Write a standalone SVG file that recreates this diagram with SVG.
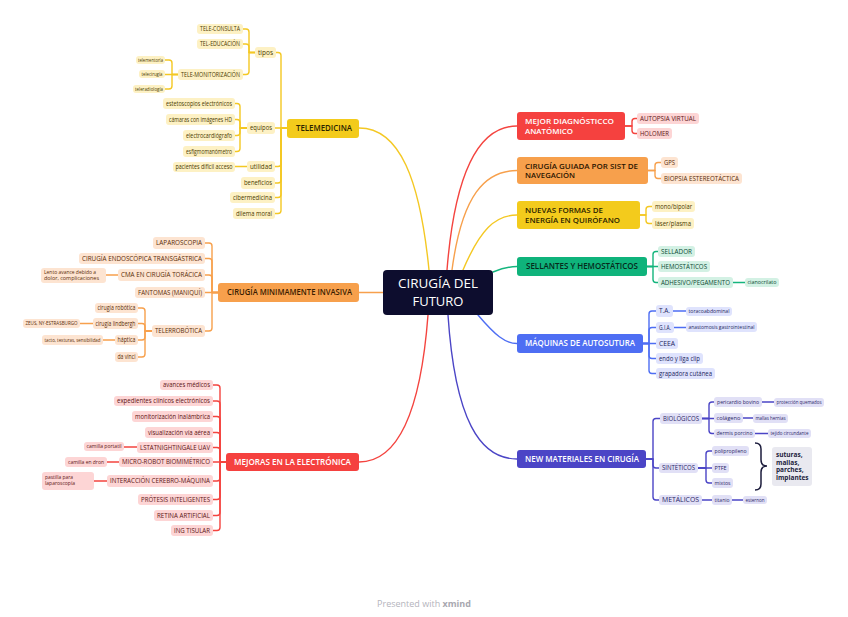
<svg xmlns="http://www.w3.org/2000/svg" width="848" height="617" viewBox="0 0 848 617">
<style>
.c{fill:none;stroke-width:1.4;stroke-linecap:round;stroke-linejoin:round}
.ly{stroke:#f4c823}.lo{stroke:#f7a04c}.lr{stroke:#f4443f}.lg{stroke:#14b57d}.lb{stroke:#4e6ef3}.li{stroke:#4b45c6}
.m{font-family:"Open Sans","Liberation Sans",sans-serif;font-weight:600;font-size:8px}
.m2{font-family:"Open Sans","Liberation Sans",sans-serif;font-weight:600;font-size:7.2px}
.s{font-family:"Open Sans","Liberation Sans",sans-serif;font-size:6.3px;text-anchor:middle}
.x{font-family:"Open Sans","Liberation Sans",sans-serif;font-size:4.4px;text-anchor:middle}
.xl{font-family:"Open Sans","Liberation Sans",sans-serif;font-size:4.4px}
.fy{fill:#fdf1c4}.fo{fill:#fde4d1}.fr{fill:#fdd5d5}.fg{fill:#d3f1e4}.fb{fill:#dfe3fd}.fi{fill:#e1e0f6}
.ty{fill:#4a3b00}.to{fill:#5a2c08}.tr{fill:#5c1414}.tg{fill:#0b4a33}.tb{fill:#1c2660}.ti{fill:#2a2666}
</style>
<rect width="848" height="617" fill="#ffffff"/>
<g id="connectors">
<path class="c ly" d="M429 270 C420 180 400 128 359 128"/>
<path class="c lr" d="M447 270 C455 170 480 126 517 126"/>
<path class="c lo" d="M452 270 C462 195 485 170.5 517 170.5"/>
<path class="c ly" d="M463 270 C480 230 495 215 517 215"/>
<path class="c lg" d="M493 272 C503 268 508 266.5 517 266.5"/>
<path class="c lb" d="M478 315 C495 335 505 343.5 517 343.5"/>
<path class="c li" d="M448 315 C455 420 480 459 517 459"/>
<path class="c lo" d="M383 292.5 H359"/>
<path class="c lr" d="M428 315 C420 420 395 462 359 462"/>
<path class="c ly" d="M287 128 H281 V55.5 Q281 52.5 278 52.5 H276"/>
<path class="c ly" d="M287 128 H275"/>
<path class="c ly" d="M287 128 H281 V163.5 Q281 166.5 278 166.5 H275"/>
<path class="c ly" d="M287 128 H281 V180 Q281 183 278 183 H275"/>
<path class="c ly" d="M287 128 H281 V194.5 Q281 197.5 278 197.5 H275"/>
<path class="c ly" d="M287 128 H281 V210.5 Q281 213.5 278 213.5 H275"/>
<path class="c ly" d="M255 52.5 H249 V32 Q249 29 246 29 H243"/>
<path class="c ly" d="M255 52.5 H249 V47 Q249 44 246 44 H243"/>
<path class="c ly" d="M255 52.5 H249 V71.5 Q249 74.5 246 74.5 H243"/>
<path class="c ly" d="M178 74.5 H172 V63 Q172 60 169 60 H165"/>
<path class="c ly" d="M178 74.5 H165"/>
<path class="c ly" d="M178 74.5 H172 V86 Q172 89 169 89 H165"/>
<path class="c ly" d="M247 128 H240 V106.5 Q240 103.5 237 103.5 H235"/>
<path class="c ly" d="M247 128 H240 V122.5 Q240 119.5 237 119.5 H235"/>
<path class="c ly" d="M247 128 H240 V132.5 Q240 135.5 237 135.5 H235"/>
<path class="c ly" d="M247 128 H240 V148.5 Q240 151.5 237 151.5 H235"/>
<path class="c ly" d="M247 166.5 H235"/>
<path class="c lo" d="M218 292.5 H212 V246 Q212 243 209 243 H205"/>
<path class="c lo" d="M218 292.5 H212 V261.5 Q212 258.5 209 258.5 H205"/>
<path class="c lo" d="M218 292.5 H212 V278 Q212 275 209 275 H205"/>
<path class="c lo" d="M218 292.5 H205"/>
<path class="c lo" d="M218 292.5 H212 V328 Q212 331 209 331 H205"/>
<path class="c lo" d="M152 331 H145 V311 Q145 308 142 308 H138"/>
<path class="c lo" d="M152 331 H145 V326.5 Q145 323.5 142 323.5 H138"/>
<path class="c lo" d="M152 331 H145 V337 Q145 340 142 340 H138"/>
<path class="c lo" d="M152 331 H145 V354 Q145 357 142 357 H138"/>
<path class="c lo" d="M118 275 H106"/>
<path class="c lo" d="M93 323.5 H80"/>
<path class="c lo" d="M115 340 H103"/>
<path class="c lr" d="M226 462 H220 V388 Q220 385 217 385 H213"/>
<path class="c lr" d="M226 462 H220 V404 Q220 401 217 401 H213"/>
<path class="c lr" d="M226 462 H220 V419.5 Q220 416.5 217 416.5 H213"/>
<path class="c lr" d="M226 462 H220 V435.5 Q220 432.5 217 432.5 H213"/>
<path class="c lr" d="M226 462 H220 V450.5 Q220 447.5 217 447.5 H213"/>
<path class="c lr" d="M226 462 H213"/>
<path class="c lr" d="M226 462 H220 V478 Q220 481 217 481 H213"/>
<path class="c lr" d="M226 462 H220 V496.5 Q220 499.5 217 499.5 H213"/>
<path class="c lr" d="M226 462 H220 V512.5 Q220 515.5 217 515.5 H213"/>
<path class="c lr" d="M226 462 H220 V527.5 Q220 530.5 217 530.5 H213"/>
<path class="c lr" d="M137 447 H124"/>
<path class="c lr" d="M119 462 H107"/>
<path class="c lr" d="M107 481 H94"/>
<path class="c lr" d="M625 126 H632 V121.5 Q632 118.5 635 118.5 H637"/>
<path class="c lr" d="M625 126 H632 V130.5 Q632 133.5 635 133.5 H637"/>
<path class="c lo" d="M648 170.5 H655 V165.5 Q655 162.5 658 162.5 H661"/>
<path class="c lo" d="M648 170.5 H655 V175.5 Q655 178.5 658 178.5 H661"/>
<path class="c ly" d="M640 215 H646 V209.5 Q646 206.5 649 206.5 H652"/>
<path class="c ly" d="M640 215 H646 V220.5 Q646 223.5 649 223.5 H652"/>
<path class="c lg" d="M647 266.5 H653 V254.5 Q653 251.5 656 251.5 H658"/>
<path class="c lg" d="M647 266.5 H658"/>
<path class="c lg" d="M647 266.5 H653 V279.5 Q653 282.5 656 282.5 H658"/>
<path class="c lg" d="M733 282.5 H745"/>
<path class="c lb" d="M643 343.5 H649 V314 Q649 311 652 311 H656"/>
<path class="c lb" d="M643 343.5 H649 V330.5 Q649 327.5 652 327.5 H656"/>
<path class="c lb" d="M643 343.5 H656"/>
<path class="c lb" d="M643 343.5 H649 V355.5 Q649 358.5 652 358.5 H656"/>
<path class="c lb" d="M643 343.5 H649 V370.5 Q649 373.5 652 373.5 H656"/>
<path class="c lb" d="M673 311 H686"/>
<path class="c lb" d="M674 327.5 H686"/>
<path class="c li" d="M646 459 H653 V421.5 Q653 418.5 656 418.5 H660"/>
<path class="c li" d="M646 459 H653 V465 Q653 468 656 468 H659"/>
<path class="c li" d="M646 459 H653 V497 Q653 500 656 500 H659"/>
<path class="c li" d="M702 418.5 H709 V405 Q709 402 712 402 H714"/>
<path class="c li" d="M702 418.5 H714"/>
<path class="c li" d="M702 418.5 H709 V430.5 Q709 433.5 712 433.5 H714"/>
<path class="c li" d="M698 468 H706 V454 Q706 451 709 451 H712"/>
<path class="c li" d="M698 468 H712"/>
<path class="c li" d="M698 468 H706 V480 Q706 483 709 483 H712"/>
<path class="c li" d="M702 500 H712"/>
<path class="c li" d="M732 500 H743"/>
<path class="c li" d="M762 402 H774"/>
<path class="c li" d="M743 418 H753"/>
<path class="c li" d="M755 433.5 H768"/>
</g>

<g id="central">
<rect x="383" y="270" width="110" height="45" rx="4" fill="#0d0d2e"/>
<text x="438" y="288" font-family="Open Sans, Liberation Sans, sans-serif" font-size="13" font-weight="500" fill="#ffffff" text-anchor="middle" textLength="80" lengthAdjust="spacingAndGlyphs">CIRUGÍA DEL</text>
<text x="438" y="305.8" font-family="Open Sans, Liberation Sans, sans-serif" font-size="13" font-weight="500" fill="#ffffff" text-anchor="middle" textLength="51" lengthAdjust="spacingAndGlyphs">FUTURO</text>
</g>

<g id="telemedicina"><rect x="287" y="119" width="72" height="19" rx="3" fill="#f3cb1c"/><text class="m" x="296" y="131" fill="#2b2300" textLength="56" lengthAdjust="spacingAndGlyphs">TELEMEDICINA</text></g>
<g id="tipos"><rect class="fy" x="255" y="47" width="21" height="11" rx="3"/><text class="s ty" x="265.5" y="54.7" textLength="15" lengthAdjust="spacingAndGlyphs">tipos</text></g>
<g id="tele-consulta"><rect class="fy" x="197" y="24" width="46" height="10" rx="3"/><text class="s ty" x="220" y="31.2" textLength="40" lengthAdjust="spacingAndGlyphs">TELE-CONSULTA</text></g>
<g id="tel-educacion"><rect class="fy" x="197" y="39" width="46" height="10" rx="3"/><text class="s ty" x="220" y="46.2" textLength="40" lengthAdjust="spacingAndGlyphs">TEL-EDUCACIÓN</text></g>
<g id="tele-monitorizacion"><rect class="fy" x="178" y="69" width="65" height="11" rx="3"/><text class="s ty" x="210.5" y="76.7" textLength="59" lengthAdjust="spacingAndGlyphs">TELE-MONITORIZACIÓN</text></g>
<g id="telementoria"><rect class="fy" x="136" y="56" width="29" height="8" rx="3"/><text class="x ty" x="150.5" y="61.6" textLength="25" lengthAdjust="spacingAndGlyphs">telementoría</text></g>
<g id="telecirugia"><rect class="fy" x="139" y="70" width="26" height="8" rx="3"/><text class="x ty" x="152" y="75.6" textLength="21" lengthAdjust="spacingAndGlyphs">telecirugía</text></g>
<g id="teleradiologia"><rect class="fy" x="133" y="85" width="32" height="8" rx="3"/><text class="x ty" x="149" y="90.6" textLength="28" lengthAdjust="spacingAndGlyphs">teleradiología</text></g>
<g id="equipos"><rect class="fy" x="247" y="122" width="28" height="12" rx="3"/><text class="s ty" x="261" y="130.2" textLength="22" lengthAdjust="spacingAndGlyphs">equipos</text></g>
<g id="estetoscopios"><rect class="fy" x="163" y="98" width="72" height="11" rx="3"/><text class="s ty" x="199" y="105.7" textLength="66" lengthAdjust="spacingAndGlyphs">estetoscopios electrónicos</text></g>
<g id="camaras"><rect class="fy" x="166" y="114" width="69" height="11" rx="3"/><text class="s ty" x="200.5" y="121.7" textLength="63" lengthAdjust="spacingAndGlyphs">cámaras con imágenes HD</text></g>
<g id="electrocardiografo"><rect class="fy" x="183" y="130" width="52" height="11" rx="3"/><text class="s ty" x="209" y="137.7" textLength="46" lengthAdjust="spacingAndGlyphs">electrocardiógrafo</text></g>
<g id="esfigmomanometro"><rect class="fy" x="183" y="146" width="52" height="11" rx="3"/><text class="s ty" x="209" y="153.7" textLength="46" lengthAdjust="spacingAndGlyphs">esfigmomanómetro</text></g>
<g id="utilidad"><rect class="fy" x="247" y="161" width="28" height="11" rx="3"/><text class="s ty" x="261" y="168.7" textLength="22" lengthAdjust="spacingAndGlyphs">utilidad</text></g>
<g id="pacientes"><rect class="fy" x="173" y="162" width="62" height="10" rx="3"/><text class="s ty" x="204" y="169.2" textLength="57" lengthAdjust="spacingAndGlyphs">pacientes difícil acceso</text></g>
<g id="beneficios"><rect class="fy" x="241" y="177" width="34" height="12" rx="3"/><text class="s ty" x="258" y="185.2" textLength="28" lengthAdjust="spacingAndGlyphs">beneficios</text></g>
<g id="cibermedicina"><rect class="fy" x="230" y="192" width="45" height="11" rx="3"/><text class="s ty" x="252.5" y="199.7" textLength="39" lengthAdjust="spacingAndGlyphs">cibermedicina</text></g>
<g id="dilema"><rect class="fy" x="233" y="208" width="42" height="11" rx="3"/><text class="s ty" x="254" y="215.7" textLength="36" lengthAdjust="spacingAndGlyphs">dilema moral</text></g>

<g id="minima"><rect x="218" y="283" width="141" height="19" rx="3" fill="#f7a04c"/><text class="m" x="227" y="295.3" fill="#3a1c00" textLength="125" lengthAdjust="spacingAndGlyphs">CIRUGÍA MINIMAMENTE INVASIVA</text></g>
<g id="laparoscopia"><rect class="fo" x="153" y="237" width="52" height="12" rx="3"/><text class="s to" x="179" y="245.2" textLength="46" lengthAdjust="spacingAndGlyphs">LAPAROSCOPIA</text></g>
<g id="endoscopica"><rect class="fo" x="79" y="253" width="126" height="11" rx="3"/><text class="s to" x="142" y="260.7" textLength="120" lengthAdjust="spacingAndGlyphs">CIRUGÍA ENDOSCÓPICA TRANSGÁSTRICA</text></g>
<g id="cma"><rect class="fo" x="118" y="269" width="87" height="12" rx="3"/><text class="s to" x="161.5" y="277.2" textLength="81" lengthAdjust="spacingAndGlyphs">CMA EN CIRUGÍA TORÁCICA</text></g>
<g id="lento"><rect class="fo" x="41" y="268" width="65" height="15" rx="3"/><text class="xl to" x="44" y="273.9" textLength="52" lengthAdjust="spacingAndGlyphs">Lento avance debido a</text><text class="xl to" x="44" y="280.1" textLength="55" lengthAdjust="spacingAndGlyphs">dolor, complicaciones</text></g>
<g id="fantomas"><rect class="fo" x="135" y="287" width="70" height="11" rx="3"/><text class="s to" x="170" y="294.7" textLength="64" lengthAdjust="spacingAndGlyphs">FANTOMAS (MANIQUÍ)</text></g>
<g id="telerrobotica"><rect class="fo" x="152" y="325" width="53" height="12" rx="3"/><text class="s to" x="178.5" y="333.2" textLength="47" lengthAdjust="spacingAndGlyphs">TELERROBÓTICA</text></g>
<g id="cirugia-robotica"><rect class="fo" x="95" y="303" width="43" height="10" rx="3"/><text class="s to" x="116.5" y="310.2" textLength="38" lengthAdjust="spacingAndGlyphs">cirugía robótica</text></g>
<g id="lindbergh"><rect class="fo" x="93" y="318" width="45" height="11" rx="3"/><text class="s to" x="115.5" y="325.7" textLength="40" lengthAdjust="spacingAndGlyphs">cirugía lindbergh</text></g>
<g id="haptica"><rect class="fo" x="115" y="335" width="23" height="10" rx="3"/><text class="s to" x="126.5" y="342.2" textLength="18" lengthAdjust="spacingAndGlyphs">háptica</text></g>
<g id="davinci"><rect class="fo" x="115" y="352" width="23" height="10" rx="3"/><text class="s to" x="126.5" y="359.2" textLength="18" lengthAdjust="spacingAndGlyphs">da vinci</text></g>
<g id="zeus"><rect class="fo" x="23" y="319" width="57" height="9" rx="3"/><text class="x to" x="51.5" y="325" textLength="52" lengthAdjust="spacingAndGlyphs">ZEUS, NY-ESTRASBURGO</text></g>
<g id="tacto"><rect class="fo" x="42" y="335" width="61" height="10" rx="3"/><text class="x to" x="72.5" y="341.6" textLength="56" lengthAdjust="spacingAndGlyphs">tacto, texturas, sensibilidad</text></g>

<g id="electronica"><rect x="226" y="453" width="133" height="18" rx="3" fill="#f5413f"/><text class="m" x="234" y="465" fill="#ffffff" textLength="117" lengthAdjust="spacingAndGlyphs">MEJORAS EN LA ELECTRÓNICA</text></g>
<g id="avances"><rect class="fr" x="160" y="380" width="53" height="10" rx="3"/><text class="s tr" x="186.5" y="387.2" textLength="47" lengthAdjust="spacingAndGlyphs">avances médicos</text></g>
<g id="expedientes"><rect class="fr" x="114" y="396" width="99" height="10" rx="3"/><text class="s tr" x="163.5" y="403.2" textLength="93" lengthAdjust="spacingAndGlyphs">expedientes clínicos electrónicos</text></g>
<g id="monitorizacion"><rect class="fr" x="132" y="411" width="81" height="11" rx="3"/><text class="s tr" x="172.5" y="418.7" textLength="75" lengthAdjust="spacingAndGlyphs">monitorización inalámbrica</text></g>
<g id="visualizacion"><rect class="fr" x="145" y="427" width="68" height="11" rx="3"/><text class="s tr" x="179" y="434.7" textLength="62" lengthAdjust="spacingAndGlyphs">visualización vía aérea</text></g>
<g id="lstat"><rect class="fr" x="137" y="442" width="76" height="11" rx="3"/><text class="s tr" x="175" y="449.7" textLength="70" lengthAdjust="spacingAndGlyphs">LSTATNIGHTINGALE UAV</text></g>
<g id="camilla-portatil"><rect class="fr" x="84" y="442" width="40" height="9" rx="3"/><text class="x tr" x="104" y="448.1" textLength="35" lengthAdjust="spacingAndGlyphs">camilla portatil</text></g>
<g id="micro-robot"><rect class="fr" x="119" y="457" width="94" height="10" rx="3"/><text class="s tr" x="166" y="464.2" textLength="88" lengthAdjust="spacingAndGlyphs">MICRO-ROBOT BIOMIMÉTRICO</text></g>
<g id="camilla-dron"><rect class="fr" x="65" y="457" width="42" height="10" rx="3"/><text class="x tr" x="86" y="463.6" textLength="36" lengthAdjust="spacingAndGlyphs">camilla en dron</text></g>
<g id="interaccion"><rect class="fr" x="107" y="475" width="106" height="12" rx="3"/><text class="s tr" x="160" y="483.2" textLength="100" lengthAdjust="spacingAndGlyphs">INTERACCIÓN CEREBRO-MÁQUINA</text></g>
<g id="pastilla"><rect class="fr" x="42" y="472" width="52" height="18" rx="3"/><text class="xl tr" x="45" y="478.6" textLength="28" lengthAdjust="spacingAndGlyphs">pastilla para</text><text class="xl tr" x="45" y="485.2" textLength="30" lengthAdjust="spacingAndGlyphs">laparoscopía</text></g>
<g id="protesis"><rect class="fr" x="138" y="494" width="75" height="11" rx="3"/><text class="s tr" x="175.5" y="501.7" textLength="69" lengthAdjust="spacingAndGlyphs">PRÓTESIS INTELIGENTES</text></g>
<g id="retina"><rect class="fr" x="154" y="510" width="59" height="11" rx="3"/><text class="s tr" x="183.5" y="517.7" textLength="53" lengthAdjust="spacingAndGlyphs">RETINA ARTIFICIAL</text></g>
<g id="ing-tisular"><rect class="fr" x="171" y="525" width="42" height="11" rx="3"/><text class="s tr" x="192" y="532.7" textLength="36" lengthAdjust="spacingAndGlyphs">ING TISULAR</text></g>

<g id="diagnostico"><rect x="517" y="112" width="108" height="28" rx="3" fill="#f5413f"/><text class="m2" x="525" y="123.8" fill="#ffffff" textLength="89" lengthAdjust="spacingAndGlyphs">MEJOR DIAGNÓSTICCO</text><text class="m2" x="525" y="133.6" fill="#ffffff" textLength="48" lengthAdjust="spacingAndGlyphs">ANATÓMICO</text></g>
<g id="autopsia"><rect class="fr" x="637" y="113" width="62" height="11" rx="3"/><text class="s tr" x="668" y="120.7" textLength="56" lengthAdjust="spacingAndGlyphs">AUTOPSIA VIRTUAL</text></g>
<g id="holomer"><rect class="fr" x="637" y="128" width="35" height="11" rx="3"/><text class="s tr" x="654.5" y="135.7" textLength="29" lengthAdjust="spacingAndGlyphs">HOLOMER</text></g>

<g id="guiada"><rect x="517" y="157" width="131" height="27" rx="3" fill="#f7a04c"/><text class="m2" x="525" y="168.5" fill="#2b1500" textLength="113" lengthAdjust="spacingAndGlyphs">CIRUGÍA GUIADA POR SIST DE</text><text class="m2" x="525" y="178.3" fill="#2b1500" textLength="50" lengthAdjust="spacingAndGlyphs">NAVEGACIÓN</text></g>
<g id="gps"><rect class="fo" x="661" y="157" width="17" height="11" rx="3"/><text class="s to" x="669.5" y="164.7" textLength="11" lengthAdjust="spacingAndGlyphs">GPS</text></g>
<g id="biopsia"><rect class="fo" x="661" y="173" width="81" height="11" rx="3"/><text class="s to" x="701.5" y="180.7" textLength="75" lengthAdjust="spacingAndGlyphs">BIOPSIA ESTEREOTÁCTICA</text></g>

<g id="energia"><rect x="517" y="201" width="123" height="28" rx="3" fill="#f3cb1c"/><text class="m2" x="525" y="212.8" fill="#2b2300" textLength="78" lengthAdjust="spacingAndGlyphs">NUEVAS FORMAS DE</text><text class="m2" x="525" y="222.6" fill="#2b2300" textLength="95" lengthAdjust="spacingAndGlyphs">ENERGÍA EN QUIRÓFANO</text></g>
<g id="mono"><rect class="fy" x="652" y="201" width="43" height="11" rx="3"/><text class="s ty" x="673.5" y="208.7" textLength="37" lengthAdjust="spacingAndGlyphs">mono/bipolar</text></g>
<g id="laser"><rect class="fy" x="652" y="218" width="42" height="11" rx="3"/><text class="s ty" x="673" y="225.7" textLength="36" lengthAdjust="spacingAndGlyphs">láser/plasma</text></g>

<g id="sellantes"><rect x="517" y="257" width="130" height="19" rx="3" fill="#0fb37b"/><text class="m" x="526" y="269.3" fill="#062a1c" textLength="112" lengthAdjust="spacingAndGlyphs">SELLANTES Y HEMOSTÁTICOS</text></g>
<g id="sellador"><rect class="fg" x="658" y="246" width="37" height="11" rx="3"/><text class="s tg" x="676.5" y="253.7" textLength="31" lengthAdjust="spacingAndGlyphs">SELLADOR</text></g>
<g id="hemostaticos"><rect class="fg" x="658" y="261" width="52" height="11" rx="3"/><text class="s tg" x="684" y="268.7" textLength="46" lengthAdjust="spacingAndGlyphs">HEMOSTÁTICOS</text></g>
<g id="adhesivo"><rect class="fg" x="658" y="277" width="75" height="11" rx="3"/><text class="s tg" x="695.5" y="284.7" textLength="69" lengthAdjust="spacingAndGlyphs">ADHESIVO/PEGAMENTO</text></g>
<g id="cianocrilato"><rect class="fg" x="745" y="278" width="34" height="9" rx="3"/><text class="x tg" x="762" y="284.1" textLength="29" lengthAdjust="spacingAndGlyphs">cianocrilato</text></g>

<g id="autosutura"><rect x="517" y="334" width="126" height="19" rx="3" fill="#4e6ef3"/><text class="m" x="525" y="346.3" fill="#ffffff" textLength="110" lengthAdjust="spacingAndGlyphs">MÁQUINAS DE AUTOSUTURA</text></g>
<g id="ta"><rect class="fb" x="656" y="305" width="17" height="12" rx="3"/><text class="s tb" x="664.5" y="313.2" textLength="11" lengthAdjust="spacingAndGlyphs">T.A.</text></g>
<g id="gia"><rect class="fb" x="656" y="322" width="18" height="11" rx="3"/><text class="s tb" x="665" y="329.7" textLength="12" lengthAdjust="spacingAndGlyphs">G.I.A.</text></g>
<g id="ceea"><rect class="fb" x="656" y="338" width="22" height="11" rx="3"/><text class="s tb" x="667" y="345.7" textLength="16" lengthAdjust="spacingAndGlyphs">CEEA</text></g>
<g id="endo"><rect class="fb" x="656" y="353" width="47" height="11" rx="3"/><text class="s tb" x="679.5" y="360.7" textLength="41" lengthAdjust="spacingAndGlyphs">endo y liga clip</text></g>
<g id="grapadora"><rect class="fb" x="656" y="368" width="59" height="11" rx="3"/><text class="s tb" x="685.5" y="375.7" textLength="53" lengthAdjust="spacingAndGlyphs">grapadora cutánea</text></g>
<g id="toracoabdominal"><rect class="fb" x="686" y="307" width="46" height="9" rx="3"/><text class="x tb" x="709" y="313.1" textLength="41" lengthAdjust="spacingAndGlyphs">toracoabdominal</text></g>
<g id="anastomosis"><rect class="fb" x="686" y="322" width="71" height="10" rx="3"/><text class="x tb" x="721.5" y="328.6" textLength="66" lengthAdjust="spacingAndGlyphs">anastomosis gastrointestinal</text></g>

<g id="materiales"><rect x="517" y="450" width="129" height="18" rx="3" fill="#4b45c6"/><text class="m" x="525" y="462" fill="#ffffff" textLength="114" lengthAdjust="spacingAndGlyphs">NEW MATERIALES EN CIRUGÍA</text></g>
<g id="biologicos"><rect class="fi" x="660" y="413" width="42" height="11" rx="3"/><text class="s ti" x="681" y="420.7" textLength="36" lengthAdjust="spacingAndGlyphs">BIOLÓGICOS</text></g>
<g id="sinteticos"><rect class="fi" x="659" y="463" width="39" height="10" rx="3"/><text class="s ti" x="678.5" y="470.2" textLength="33" lengthAdjust="spacingAndGlyphs">SINTÉTICOS</text></g>
<g id="metalicos"><rect class="fi" x="659" y="495" width="43" height="10" rx="3"/><text class="s ti" x="680.5" y="502.2" textLength="37" lengthAdjust="spacingAndGlyphs">METÁLICOS</text></g>
<g id="pericardio"><rect class="fi" x="714" y="397" width="48" height="10" rx="3"/><text class="x ti" x="738" y="403.6" textLength="42" lengthAdjust="spacingAndGlyphs">pericardio bovino</text></g>
<g id="proteccion"><rect class="fi" x="774" y="398" width="50" height="9" rx="3"/><text class="x ti" x="799" y="404.1" textLength="45" lengthAdjust="spacingAndGlyphs">protección quemados</text></g>
<g id="colageno"><rect class="fi" x="714" y="413" width="29" height="10" rx="3"/><text class="x ti" x="728.5" y="419.6" textLength="24" lengthAdjust="spacingAndGlyphs">colágeno</text></g>
<g id="mallas-hernias"><rect class="fi" x="753" y="414" width="35" height="9" rx="3"/><text class="x ti" x="770.5" y="420.1" textLength="30" lengthAdjust="spacingAndGlyphs">mallas hernias</text></g>
<g id="dermis"><rect class="fi" x="714" y="429" width="41" height="9" rx="3"/><text class="x ti" x="734.5" y="435.1" textLength="36" lengthAdjust="spacingAndGlyphs">dermis porcino</text></g>
<g id="tejido"><rect class="fi" x="768" y="429" width="43" height="9" rx="3"/><text class="x ti" x="789.5" y="435.1" textLength="38" lengthAdjust="spacingAndGlyphs">tejido circundante</text></g>
<g id="polipropileno"><rect class="fi" x="712" y="446" width="37" height="10" rx="3"/><text class="x ti" x="730.5" y="452.6" textLength="32" lengthAdjust="spacingAndGlyphs">polipropileno</text></g>
<g id="ptfe"><rect class="fi" x="712" y="463" width="17" height="10" rx="3"/><text class="x ti" x="720.5" y="469.6" textLength="12" lengthAdjust="spacingAndGlyphs">PTFE</text></g>
<g id="mixtos"><rect class="fi" x="712" y="478" width="21" height="10" rx="3"/><text class="x ti" x="722.5" y="484.6" textLength="16" lengthAdjust="spacingAndGlyphs">mixtos</text></g>
<g id="titanio"><rect class="fi" x="712" y="495" width="20" height="10" rx="3"/><text class="x ti" x="722" y="501.6" textLength="15" lengthAdjust="spacingAndGlyphs">titanio</text></g>
<g id="esternon"><rect class="fi" x="743" y="496" width="24" height="8" rx="3"/><text class="x ti" x="755" y="501.6" textLength="19" lengthAdjust="spacingAndGlyphs">esternon</text></g>
<g id="brace"><path d="M755 443 Q761 443 761 449 V460 Q761 466 767 466 Q761 466 761 472 V484 Q761 490 755 490" fill="none" stroke="#1c1c3c" stroke-width="1.5"/></g>
<g id="suturas"><rect x="772" y="447" width="40" height="39" rx="3" fill="#e9e9f0"/>
<g font-family="Open Sans, Liberation Sans, sans-serif" font-size="6.5" font-weight="700" fill="#1c1c3c">
<text x="776" y="457">suturas,</text><text x="776" y="464.5">mallas,</text><text x="776" y="472">parches,</text><text x="776" y="479.5">implantes</text></g></g>

<g id="footer"><text x="424" y="607" font-family="Open Sans, Liberation Sans, sans-serif" font-size="9" fill="#b4b4bc" text-anchor="middle">Presented with <tspan font-weight="700" fill="#a8a8b0">xmind</tspan></text></g>
</svg>
